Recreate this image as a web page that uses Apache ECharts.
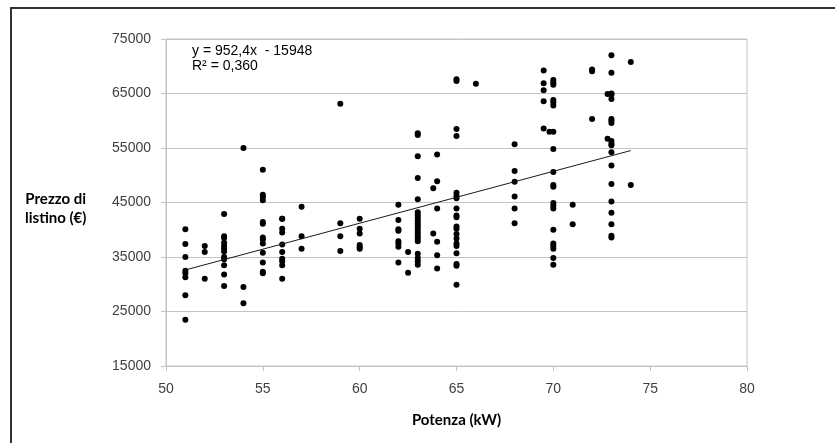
<!DOCTYPE html>
<html>
<head>
<meta charset="utf-8">
<script src="https://cdn.jsdelivr.net/npm/echarts@6/dist/echarts.min.js"></script>
<style>
html,body{margin:0;padding:0;background:#fff;}
#chart{width:835px;height:443px;}
</style>
</head>
<body>
<div id="chart"></div>
<script>
// Potenza (kW) values, each with the list of prices (€) observed at that power
const powerKW = [51, 52, 53, 54, 55, 56, 57, 59, 60, 62, 62.5, 63, 63.8, 64, 65, 66, 68, 69.5, 69.8, 70, 71, 72, 72.8, 73, 74];
const pricesEUR = [
  [40100, 37400, 35000, 32500, 32000, 31300, 28000, 23500],
  [37000, 35900, 31000],
  [42900, 38800, 38500, 37600, 37000, 36500, 36000, 35000, 34600, 33500, 31800, 29700],
  [55000, 29500, 26500],
  [51000, 46400, 46000, 45400, 41400, 41100, 38600, 38200, 37500, 35800, 34000, 32300, 32000],
  [42000, 42000, 40200, 39500, 37300, 35900, 34700, 34200, 33500, 31000],
  [44200, 38800, 36500],
  [63100, 41200, 38800, 36100],
  [42000, 40200, 39300, 37200, 36800, 36500],
  [44600, 41800, 40100, 39800, 37900, 37500, 36900, 34000],
  [35900, 32100],
  [57700, 57400, 53500, 49500, 45600, 43200, 42700, 42200, 41700, 41200, 40800, 40300, 39800, 39300, 38800, 38400, 37900, 35600, 34800, 34200, 33600],
  [47600, 39300],
  [53800, 48900, 43900, 37800, 35300, 32900],
  [67600, 67300, 58500, 57200, 46800, 46200, 45800, 43900, 42600, 42300, 40600, 40200, 39200, 38400, 37500, 37000, 35700, 33700, 33400, 29900],
  [66800],
  [55700, 50800, 48800, 46100, 43900, 41200],
  [69200, 66900, 65600, 63600, 58600],
  [58000],
  [67500, 67000, 66600, 63800, 63400, 62800, 58000, 54800, 50600, 48200, 47900, 44900, 44400, 43900, 40000, 37500, 37000, 36500, 34800, 33600],
  [44600, 41000],
  [69400, 69100, 60300],
  [64900, 56700],
  [72000, 68800, 65000, 64800, 64000, 60300, 60000, 59600, 56300, 55800, 55500, 54200, 51800, 48400, 45200, 43100, 41000, 38900, 38600],
  [70800, 48200]
];
// Linear trend line endpoints (y = 952,4x - 15948)
const trendX = [51, 74];
const trendY = [32624, 54530];
// Axis ticks
const xTicks = [50, 55, 60, 65, 70, 75, 80];
const yTicks = [15000, 25000, 35000, 45000, 55000, 65000, 75000];
const equationLines = ['y = 952,4x  - 15948', 'R² = 0,360'];

const scatterData = [];
powerKW.forEach((p, i) => pricesEUR[i].forEach(v => scatterData.push([p, v])));
const trendData = trendX.map((x, i) => [x, trendY[i]]);

const gridColor = '#c4c4c4';
const labelColor = '#404040';
const chart = echarts.init(document.getElementById('chart'), null, {renderer: 'canvas'});
chart.setOption({
  animation: false,
  backgroundColor: '#ffffff',
  grid: {left: 166, right: 88, top: 39, bottom: 77, show: true, borderColor: gridColor, borderWidth: 1, backgroundColor: 'transparent'},
  xAxis: {
    type: 'value', min: xTicks[0], max: xTicks[xTicks.length - 1], interval: 5,
    axisLine: {show: true, lineStyle: {color: gridColor, width: 1}},
    axisTick: {show: true, length: 5, lineStyle: {color: gridColor}},
    axisLabel: {color: labelColor, fontFamily: 'Liberation Sans, Arial, sans-serif', fontSize: 14, margin: 16, formatter: v => String(v)},
    splitLine: {show: false},
    name: 'Potenza (kW)', nameLocation: 'middle', nameGap: 47,
    nameTextStyle: {color: '#000', fontFamily: 'Lato, sans-serif', fontWeight: 'bold', fontSize: 15}
  },
  yAxis: {
    type: 'value', min: yTicks[0], max: yTicks[yTicks.length - 1], interval: 10000,
    axisLine: {show: true, lineStyle: {color: gridColor, width: 1}},
    axisTick: {show: true, length: 5, lineStyle: {color: gridColor}},
    axisLabel: {color: labelColor, fontFamily: 'Liberation Sans, Arial, sans-serif', fontSize: 14, margin: 15, formatter: v => String(v)},
    splitLine: {show: true, lineStyle: {color: gridColor, width: 1}}
  },
  graphic: [
    {type: 'rect', shape: {x: 11, y: 8, width: 900, height: 600}, style: {fill: 'none', stroke: '#333333', lineWidth: 2}, silent: true},
    {type: 'text', left: 25, top: 190, style: {text: 'Prezzo di\nlistino (€)', fill: '#000', font: 'bold 15px Lato, sans-serif', textAlign: 'center', lineHeight: 19}},
    {type: 'text', x: 192, y: 44, style: {text: equationLines.join('\n'), fill: '#000', font: '14px "Liberation Sans", Arial, sans-serif', lineHeight: 15}}
  ],
  series: [
    {
      type: 'scatter', data: scatterData, symbol: 'circle', symbolSize: 6,
      itemStyle: {color: '#000000', opacity: 1}, z: 3
    },
    {
      type: 'line', data: trendData, symbol: 'none', showSymbol: false,
      lineStyle: {color: '#1a1a1a', width: 1}, z: 4
    }
  ]
});
</script>
</body>
</html>
